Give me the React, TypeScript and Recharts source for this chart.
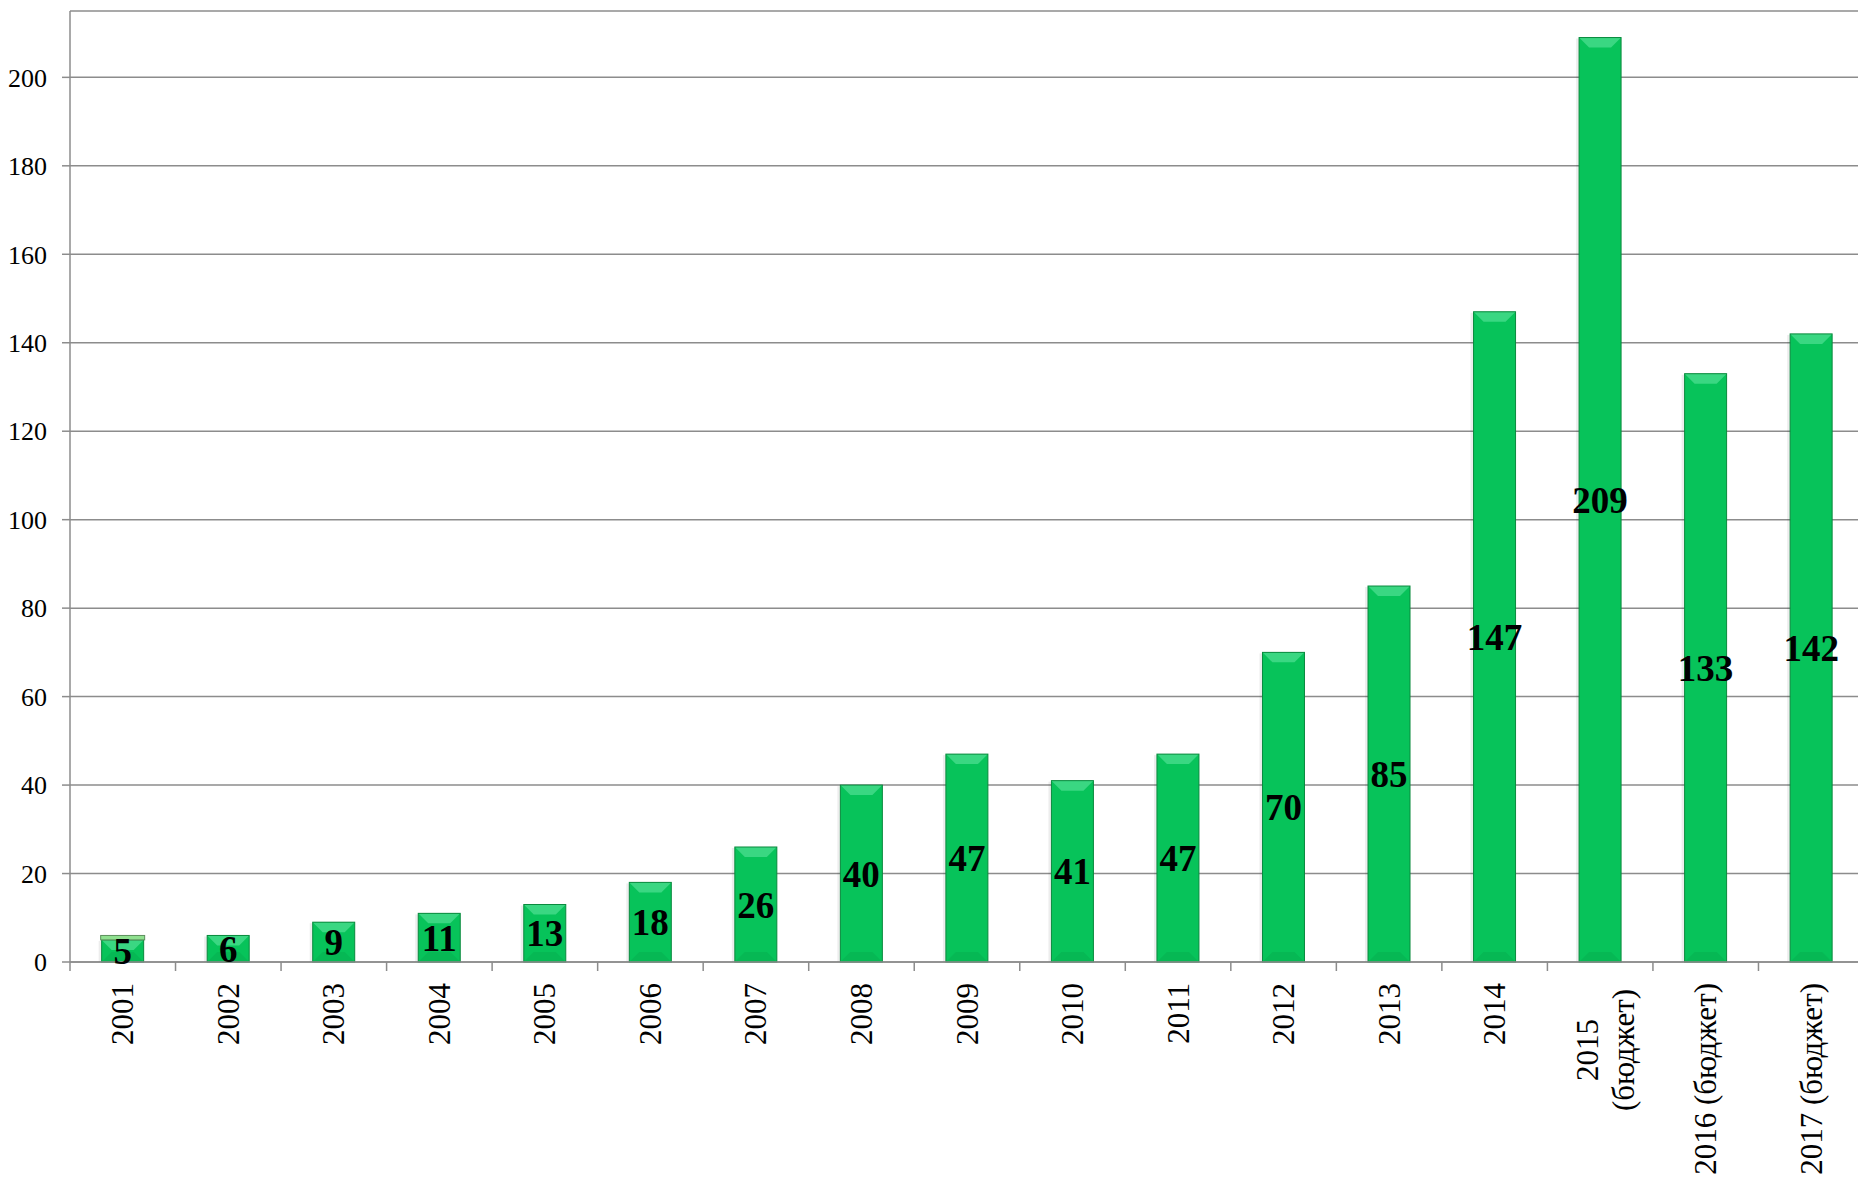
import { BarChart, Bar, XAxis, YAxis, CartesianGrid, LabelList } from "recharts";

const categories = [
  "2001", "2002", "2003", "2004", "2005", "2006", "2007", "2008", "2009",
  "2010", "2011", "2012", "2013", "2014", "2015\n(бюджет)", "2016 (бюджет)", "2017 (бюджет)",
];
const values = [5, 6, 9, 11, 13, 18, 26, 40, 47, 41, 47, 70, 85, 147, 209, 133, 142];
// thin light strip sitting on top of the 2001 bar
const topStrip = [1, 0, 0, 0, 0, 0, 0, 0, 0, 0, 0, 0, 0, 0, 0, 0, 0];
const yTicks = [0, 20, 40, 60, 80, 100, 120, 140, 160, 180, 200];

const W = 1858;
const H = 1180;
const CHART_W = 1864; // plot runs a few px past the right edge, like the original
const Y_AXIS_W = 70;
const HALF_BAND = (CHART_W - Y_AXIS_W) / categories.length / 2;
const GRAY = "#8c8c8c";
const FONT = "'Liberation Serif', 'Times New Roman', serif";

const data = categories.map((label, i) => ({ label, value: values[i], strip: topStrip[i] }));

const BevelBar = (props: any) => {
  const { x, y, width, height } = props;
  if (!height || height <= 0) return null;
  const b = Math.min(10, height / 2, width / 2);
  const r = x + width;
  const btm = y + height;
  return (
    <g>
      <rect x={x - 3} y={y + 1} width={width + 3} height={height - 1} fill="rgba(0,0,0,0.07)" />
      <rect x={x} y={y} width={width} height={height} fill="#07c35a" />
      <polygon points={`${x},${y} ${r},${y} ${r - b},${y + b} ${x + b},${y + b}`} fill="#3ad782" />
      <polygon points={`${x},${btm} ${r},${btm} ${r - b},${btm - b} ${x + b},${btm - b}`} fill="#06b854" />
      <rect x={x} y={y} width={width} height={height} fill="none" stroke="#0a8a3e" strokeWidth={1} />
    </g>
  );
};

const StripBar = (props: any) => {
  const { x, y, width, height } = props;
  if (!height || height <= 0) return null;
  return <rect x={x - 1} y={y} width={width + 2} height={height} fill="#8fe08f" stroke="#5d8f5d" strokeWidth={1} />;
};

const XTick = (props: any) => {
  const { x, y, payload, index } = props;
  const lines = String(payload.value).split("\n");
  return (
    <g transform={`translate(${x},${y})`}>
      <line x1={-HALF_BAND} x2={-HALF_BAND} y1={0} y2={9} stroke={GRAY} strokeWidth={1.5} />
      {index === categories.length - 1 && (
        <line x1={HALF_BAND} x2={HALF_BAND} y1={0} y2={9} stroke={GRAY} strokeWidth={1.5} />
      )}
      {lines.length === 1 ? (
        <text transform="rotate(-90)" x={-21} y={10.5} textAnchor="end" fontSize={31} fontFamily={FONT} fill="#000">
          {lines[0]}
        </text>
      ) : (
        <text transform="rotate(-90)" textAnchor="middle" fontSize={31} fontFamily={FONT} fill="#000">
          {lines.map((ln, i) => (
            <tspan key={i} x={-88} y={-2 + i * 36}>
              {ln}
            </tspan>
          ))}
        </text>
      )}
    </g>
  );
};

export default function App() {
  return (
    <div
      style={{
        position: "absolute",
        left: 0,
        top: 0,
        width: W,
        height: H,
        overflow: "hidden",
        background: "#fff",
        fontFamily: FONT,
      }}
    >
      <BarChart
        width={CHART_W}
        height={H}
        data={data}
        margin={{ top: 11, right: 0, bottom: 0, left: 0 }}
        barCategoryGap="30%"
      >
        <CartesianGrid vertical={false} stroke={GRAY} strokeWidth={1.5} />
        <XAxis
          dataKey="label"
          interval={0}
          height={H - 962}
          tickSize={0}
          tickMargin={0}
          tickLine={false}
          axisLine={{ stroke: GRAY, strokeWidth: 1.5 }}
          tick={<XTick />}
        />
        <YAxis
          width={Y_AXIS_W}
          domain={[0, 215]}
          ticks={yTicks}
          allowDecimals={false}
          tickSize={8}
          tickMargin={15}
          axisLine={{ stroke: GRAY, strokeWidth: 1.5 }}
          tickLine={{ stroke: GRAY, strokeWidth: 1.5 }}
          tick={{ fill: "#000", fontSize: 26, fontFamily: FONT }}
        />
        <Bar dataKey="value" stackId="a" shape={<BevelBar />} isAnimationActive={false}>
          <LabelList
            dataKey="value"
            position="center"
            fill="#000"
            fontSize={37}
            fontWeight="bold"
            fontFamily={FONT}
          />
        </Bar>
        <Bar dataKey="strip" stackId="a" shape={<StripBar />} isAnimationActive={false} />
      </BarChart>
    </div>
  );
}
